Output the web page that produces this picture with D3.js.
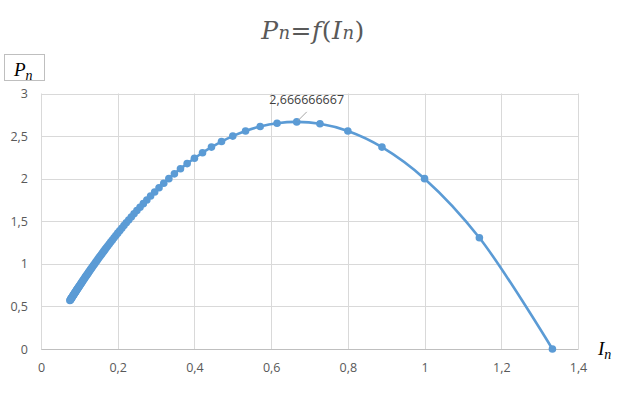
<!DOCTYPE html>
<html>
<head>
<meta charset="utf-8">
<script src="https://cdn.jsdelivr.net/npm/d3@7"></script>
<style>
  body { margin: 0; background: #fff; }
  svg { display: block; }
</style>
</head>
<body>
<script>
// current I_n and power P_n, one point per load step
var currentI = [1.3333, 1.1429, 1.0000, 0.8889, 0.8000, 0.7273, 0.6667, 0.6154, 0.5714, 0.5333,
  0.5000, 0.4706, 0.4444, 0.4211, 0.4000, 0.3810, 0.3636, 0.3478, 0.3333, 0.3200,
  0.3077, 0.2963, 0.2857, 0.2759, 0.2667, 0.2581, 0.2500, 0.2424, 0.2353, 0.2286,
  0.2222, 0.2162, 0.2105, 0.2051, 0.2000, 0.1951, 0.1905, 0.1860, 0.1818, 0.1778,
  0.1739, 0.1702, 0.1667, 0.1633, 0.1600, 0.1569, 0.1538, 0.1509, 0.1481, 0.1455,
  0.1429, 0.1404, 0.1379, 0.1356, 0.1333, 0.1311, 0.1290, 0.1270, 0.1250, 0.1231,
  0.1212, 0.1194, 0.1176, 0.1159, 0.1143, 0.1127, 0.1111, 0.1096, 0.1081, 0.1067,
  0.1053, 0.1039, 0.1026, 0.1013, 0.1000, 0.0988, 0.0976, 0.0964, 0.0952, 0.0941,
  0.0930, 0.0920, 0.0909, 0.0899, 0.0889, 0.0879, 0.0870, 0.0860, 0.0851, 0.0842,
  0.0833, 0.0825, 0.0816, 0.0808, 0.0800, 0.0792, 0.0784, 0.0777, 0.0769, 0.0762,
  0.0755]
var powerP = [0, 1.3061, 2.0000, 2.3704, 2.5600, 2.6446, 2.6667, 2.6509, 2.6122, 2.5600,
  2.5000, 2.4360, 2.3704, 2.3047, 2.2400, 2.1769, 2.1157, 2.0567, 2.0000, 1.9456,
  1.8935, 1.8436, 1.7959, 1.7503, 1.7067, 1.6649, 1.6250, 1.5868, 1.5502, 1.5151,
  1.4815, 1.4492, 1.4183, 1.3886, 1.3600, 1.3325, 1.3061, 1.2807, 1.2562, 1.2326,
  1.2098, 1.1879, 1.1667, 1.1462, 1.1264, 1.1073, 1.0888, 1.0708, 1.0535, 1.0367,
  1.0204, 1.0046, 0.9893, 0.9744, 0.9600, 0.9460, 0.9324, 0.9191, 0.9063, 0.8937,
  0.8815, 0.8697, 0.8581, 0.8469, 0.8359, 0.8252, 0.8148, 0.8047, 0.7947, 0.7851,
  0.7756, 0.7664, 0.7574, 0.7486, 0.7400, 0.7316, 0.7234, 0.7153, 0.7075, 0.6998,
  0.6923, 0.6849, 0.6777, 0.6706, 0.6637, 0.6569, 0.6503, 0.6438, 0.6374, 0.6311,
  0.6250, 0.6190, 0.6131, 0.6073, 0.6016, 0.5960, 0.5905, 0.5852, 0.5799, 0.5747,
  0.5696]
var xTicks = [0, 0.2, 0.4, 0.6, 0.8, 1, 1.2, 1.4]
var yTicks = [0, 0.5, 1, 1.5, 2, 2.5, 3]
var maxLabel = '2,666666667'

var width = 630, height = 396
var grid = '#d9d9d9', textCol = '#595959', blue = '#5b9bd5'
var comma = function(v) { return String(v).replace('.', ',') }

var svg = d3.select('body').append('svg')
  .attr('width', width).attr('height', height)

var x = d3.scaleLinear().domain([0, 1.4]).range([41, 578])
var y = d3.scaleLinear().domain([0, 3]).range([349, 93.5])

// gridlines
svg.append('g').selectAll('line.h').data(yTicks).enter().append('line')
  .attr('x1', x(0)).attr('x2', x(1.4))
  .attr('y1', function(d) { return Math.round(y(d)) + 0.5 })
  .attr('y2', function(d) { return Math.round(y(d)) + 0.5 })
  .attr('stroke', grid).attr('stroke-width', 1)
svg.append('g').selectAll('line.v').data(xTicks).enter().append('line')
  .attr('y1', y(0)).attr('y2', y(3))
  .attr('x1', function(d) { return Math.round(x(d)) + 0.5 })
  .attr('x2', function(d) { return Math.round(x(d)) + 0.5 })
  .attr('stroke', grid).attr('stroke-width', 1)

// axes, only the labels
var xAxis = d3.axisBottom(x).tickValues(xTicks).tickSize(0).tickPadding(14).tickFormat(comma)
var gx = svg.append('g').attr('transform', 'translate(0,' + y(0) + ')').call(xAxis)
gx.select('.domain').attr('stroke', '#bfbfbf')
var yAxis = d3.axisLeft(y).tickValues(yTicks).tickSize(0).tickPadding(13).tickFormat(comma)
var gy = svg.append('g').attr('transform', 'translate(' + x(0) + ',0)').call(yAxis)
gy.select('.domain').remove()
svg.selectAll('.tick text')
  .attr('fill', textCol).style('font-family', 'Open Sans, sans-serif').style('font-size', '12.5px')

// curve and markers
var pts = currentI.map(function(d, i) { return [d, powerP[i]] })
var line = d3.line()
  .x(function(d) { return x(d[0]) }).y(function(d) { return y(d[1]) })
  .curve(d3.curveCatmullRom.alpha(0.5))
svg.append('path').datum(pts).attr('d', line)
  .attr('fill', 'none').attr('stroke', blue).attr('stroke-width', 2.6)
svg.append('g').selectAll('circle').data(pts).enter().append('circle')
  .attr('cx', function(d) { return x(d[0]) })
  .attr('cy', function(d) { return y(d[1]) })
  .attr('r', 3.8).attr('fill', blue)

// data label at the maximum
var iMax = d3.maxIndex(powerP)
var px = x(currentI[iMax]), py = y(powerP[iMax])
svg.append('line')
  .attr('x1', px + 1.5).attr('y1', py - 1.5).attr('x2', px + 10).attr('y2', py - 10)
  .attr('stroke', '#a6a6a6').attr('stroke-width', 1)
svg.append('text').attr('x', px + 10).attr('y', 104)
  .attr('text-anchor', 'middle').attr('fill', '#404040')
  .style('font-family', 'Open Sans, sans-serif').style('font-size', '12.5px')
  .text(maxLabel)

// title
var serif = 'DejaVu Serif, Liberation Serif, serif'
var serif2 = 'Liberation Serif, serif'
var title = svg.append('text').attr('x', 313).attr('y', 39).attr('text-anchor', 'middle')
  .attr('fill', textCol).style('font-family', serif).style('font-style', 'italic').style('font-size', '25px')
  .style('letter-spacing', '0.5px')
title.append('tspan').text('P')
title.append('tspan').style('font-size', '18px').text('n')
title.append('tspan').style('font-style', 'normal').text('=')
title.append('tspan').text('f')
title.append('tspan').style('font-style', 'normal').text('(')
title.append('tspan').text('I')
title.append('tspan').style('font-size', '18px').text('n')
title.append('tspan').style('font-style', 'normal').text(')')

// y axis title in a box
svg.append('rect').attr('x', 4.5).attr('y', 54.5).attr('width', 40).attr('height', 26)
  .attr('fill', '#fff').attr('stroke', '#bfbfbf').attr('stroke-width', 1)
var yt = svg.append('text').attr('x', 14).attr('y', 76)
  .attr('fill', '#000').style('font-family', serif2).style('font-style', 'italic').style('font-size', '19px')
yt.append('tspan').text('P')
yt.append('tspan').attr('dy', 4).style('font-size', '14px').text('n')

// x axis title
var xt = svg.append('text').attr('x', 598).attr('y', 355)
  .attr('fill', '#000').style('font-family', serif2).style('font-style', 'italic').style('font-size', '19px')
xt.append('tspan').text('I')
xt.append('tspan').attr('dy', 4).style('font-size', '14px').text('n')
</script>
</body>
</html>
